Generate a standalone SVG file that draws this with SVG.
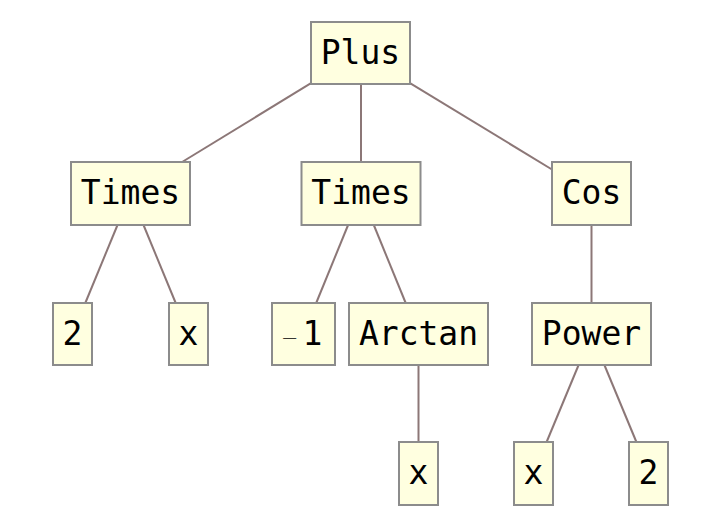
<svg xmlns="http://www.w3.org/2000/svg" width="720" height="526" viewBox="0 0 720 526">
<style>
.n rect{fill:#ffffe0;stroke:#8c8c8c;stroke-width:2}
.n text{font-family:"DejaVu Sans Mono",monospace;font-size:33px;fill:#000;text-anchor:middle}
#edges line{stroke:#8c7777;stroke-width:2;fill:none}
</style>
<rect width="720" height="526" fill="#fff"/>
<g id="edges">
<line x1="311" y1="83.2" x2="182.1" y2="162"/>
<line x1="361" y1="84" x2="361" y2="162"/>
<line x1="410" y1="83.1" x2="552" y2="169.5"/>
<line x1="117.5" y1="225" x2="85.3" y2="303"/>
<line x1="143.5" y1="225" x2="175.7" y2="303"/>
<line x1="348.1" y1="225" x2="316.2" y2="303"/>
<line x1="373.8" y1="225" x2="405.7" y2="303"/>
<line x1="418.5" y1="366" x2="418.5" y2="442"/>
<line x1="591.5" y1="225" x2="591.5" y2="303"/>
<line x1="578.6" y1="365" x2="546.6" y2="442"/>
<line x1="604.4" y1="365" x2="636.4" y2="442"/>
</g>
<g id="plus" class="n"><rect x="311" y="22" width="99" height="62"/><text x="360.5" y="63.5">Plus</text></g>
<g id="times1" class="n"><rect x="71" y="162" width="119" height="63"/><text x="130.5" y="203.5">Times</text></g>
<g id="times2" class="n"><rect x="301.5" y="162" width="119" height="63"/><text x="361" y="203.5">Times</text></g>
<g id="cos" class="n"><rect x="552" y="162" width="79" height="63"/><text x="591.5" y="203.5">Cos</text></g>
<g id="two1" class="n"><rect x="53" y="303" width="39" height="62"/><text x="72.5" y="344.5">2</text></g>
<g id="x1" class="n"><rect x="169" y="303" width="39" height="62"/><text x="188.5" y="344.5">x</text></g>
<g id="neg1" class="n"><rect x="272" y="303" width="63" height="62"/><text y="344.5" style="text-anchor:start"><tspan x="281" font-size="21" font-family="DejaVu Sans" font-weight="200">−</tspan><tspan x="302.5">1</tspan></text></g>
<g id="arctan" class="n"><rect x="349" y="303" width="139" height="62"/><text x="418.5" y="344.5">Arctan</text></g>
<g id="power" class="n"><rect x="532" y="303" width="119" height="62"/><text x="591.5" y="344.5">Power</text></g>
<g id="x2" class="n"><rect x="399" y="442" width="39" height="63"/><text x="418.5" y="484">x</text></g>
<g id="x3" class="n"><rect x="514" y="442" width="39" height="63"/><text x="533.5" y="484">x</text></g>
<g id="two2" class="n"><rect x="629" y="442" width="39" height="63"/><text x="648.5" y="484">2</text></g>
</svg>
